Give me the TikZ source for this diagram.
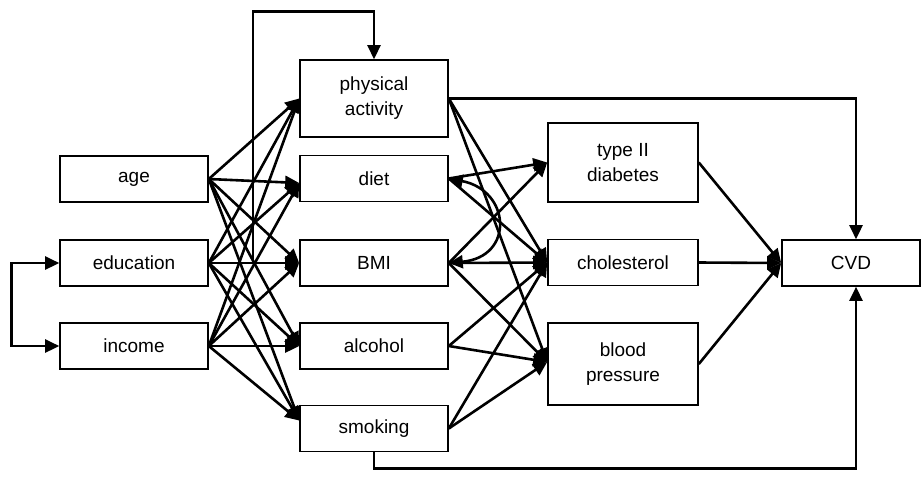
\documentclass[tikz,border=0pt]{standalone}
\usepackage{fontspec}
\setmainfont{Liberation Sans}
\usetikzlibrary{arrows.meta}
\begin{document}
\begin{tikzpicture}[x=1pt,y=-1pt,
  >={Triangle[length=14pt,width=13pt]},
  box/.style={draw, line width=1.6pt, minimum width=148pt, minimum height=46pt,
    inner sep=0pt, align=center, font=\fontsize{19}{25}\selectfont},
  link/.style={line width=2.6pt, ->},
  corr/.style={line width=2.6pt, <->}]
\useasboundingbox (0,0) rectangle (922,499);

% background factors
\node[box] (age) at (134,179) {age};
\node[box] (edu) at (134,263) {education};
\node[box] (inc) at (134,346) {income};

% lifestyle factors
\node[box, minimum height=77pt] (pa) at (374,98.5) {physical\\activity};
\node[box] (diet) at (374,178.5) {diet};
\node[box] (bmi) at (374,263) {BMI};
\node[box] (alc) at (374,346) {alcohol};
\node[box] (smk) at (374,428.5) {smoking};

% intermediate conditions
\node[box, minimum width=150pt, minimum height=79pt] (t2d) at (623,162.5) {type II\\diabetes};
\node[box, minimum width=150pt] (chol) at (623,262.5) {cholesterol};
\node[box, minimum width=150pt, minimum height=82pt] (bp) at (623,364) {blood\\pressure};

% outcome
\node[box, minimum width=138pt] (cvd) at (851,263) {CVD};

% entry points on the lifestyle boxes
\coordinate (pa-in) at (pa.west);
\coordinate (diet-in) at ([yshift=-4.5pt]diet.west);
\coordinate (bmi-in) at (bmi.west);
\coordinate (alc-in) at (alc.west);
\coordinate (smk-in) at ([yshift=8pt]smk.west);

% background -> lifestyle
\foreach \s in {age,edu,inc}
  \foreach \t in {pa-in,diet-in,bmi-in,alc-in,smk-in}
    \draw[link] (\s.east) -- (\t);

% education feeds physical activity over the top
\coordinate (tap) at (253,263);
\draw[link] (tap) |- ([yshift=48pt]pa.north) -- (pa.north);

% education <-> income
\draw[corr] (edu.west) -- ++(-48,0) |- (inc.west);

% lifestyle -> intermediate conditions
\draw[link] (pa.east) -- (chol.west);
\draw[link] (pa.east) -- ([yshift=2pt]bp.west);
\draw[link] (diet.east) -- (t2d.west);
\draw[link] (diet.east) -- (chol.west);
\draw[link] (bmi.east) -- (t2d.west);
\draw[link] (bmi.east) -- (chol.west);
\draw[link] (bmi.east) -- ([yshift=2pt]bp.west);
\draw[link] (alc.east) -- (chol.west);
\draw[link] (alc.east) -- ([yshift=2pt]bp.west);
\draw[link] (smk.east) -- (chol.west);
\draw[link] (smk.east) -- ([yshift=2pt]bp.west);

% diet <-> BMI
\draw[corr] (diet.east) .. controls +(62,12) and +(66,-6) .. (bmi.east);

% intermediate conditions -> CVD
\draw[link] (t2d.east) -- (cvd.west);
\draw[link] (chol.east) -- (cvd.west);
\draw[link] (bp.east) -- (cvd.west);

% direct paths to CVD
\draw[link] (pa.east) -| ([xshift=5pt]cvd.north);
\draw[link] (smk.south) -- ++(0,16) -| ([xshift=5pt]cvd.south);
\end{tikzpicture}
\end{document}
